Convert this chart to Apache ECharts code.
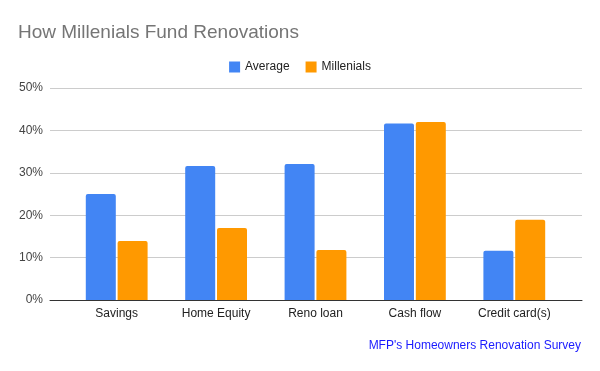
<!DOCTYPE html>
<html><head><meta charset="utf-8">
<script src="https://cdn.jsdelivr.net/npm/echarts@6/dist/echarts.min.js"></script>
<style>html,body{margin:0;padding:0;background:#fff}#c{width:600px;height:371px}</style>
</head><body><div id="c"></div>
<script>
const categories = ["Savings", "Home Equity", "Reno loan", "Cash flow", "Credit card(s)"];
const average = [25, 31.6, 32.1, 41.6, 11.6];
const millenials = [13.9, 17, 11.8, 42, 18.9];
const yTicks = [0, 10, 20, 30, 40, 50];

const font = "Liberation Sans, Arial, sans-serif";
const chart = echarts.init(document.getElementById('c'));
chart.setOption({
  animation: false,
  title: [{
    text: "How Millenials Fund Renovations", left: 13, top: 18,
    textStyle: {fontFamily: font, fontSize: 19, fontWeight: 'normal', color: '#757575'}
  }, {
    text: "MFP's Homeowners Renovation Survey", right: 14, top: 335,
    textStyle: {fontFamily: font, fontSize: 12, fontWeight: 'normal', color: '#1a1aff'}
  }],
  legend: {
    top: 56, left: 'center', itemWidth: 11, itemHeight: 11, itemGap: 16,
    icon: 'rect',
    textStyle: {fontFamily: font, fontSize: 12, color: '#222'},
    data: ["Average", "Millenials"]
  },
  grid: [
    {left: 50, right: 18, top: 88, bottom: 71},
    {left: 67, right: 36, top: 88, bottom: 71}
  ],
  xAxis: [
    {type: 'category', gridIndex: 0, data: [''], axisTick: {show: false}, axisLabel: {show: false},
     axisLine: {lineStyle: {color: '#333', width: 1}}},
    {type: 'category', gridIndex: 1, data: categories, axisTick: {show: false},
     axisLine: {show: false},
     axisLabel: {fontFamily: font, fontSize: 12, color: '#222', margin: 8}}
  ],
  yAxis: [
    {type: 'value', gridIndex: 0, min: yTicks[0], max: yTicks[yTicks.length-1], interval: 10,
     axisLabel: {formatter: '{value}%', fontFamily: font, fontSize: 12, color: '#444', margin: 7},
     splitLine: {lineStyle: {color: '#ccc'}}, axisLine: {show: false}, axisTick: {show: false}},
    {type: 'value', gridIndex: 1, min: yTicks[0], max: yTicks[yTicks.length-1], interval: 10, show: false,
     splitLine: {show: false}}
  ],
  series: [
    {name: "Average", type: 'bar', xAxisIndex: 1, yAxisIndex: 1, data: average,
     barWidth: 30, barGap: '6%', itemStyle: {color: '#4285F4', borderRadius: [2,2,0,0]}},
    {name: "Millenials", type: 'bar', xAxisIndex: 1, yAxisIndex: 1, data: millenials,
     barWidth: 30, barGap: '6%', itemStyle: {color: '#FF9900', borderRadius: [2,2,0,0]}}
  ]
});
</script></body></html>
